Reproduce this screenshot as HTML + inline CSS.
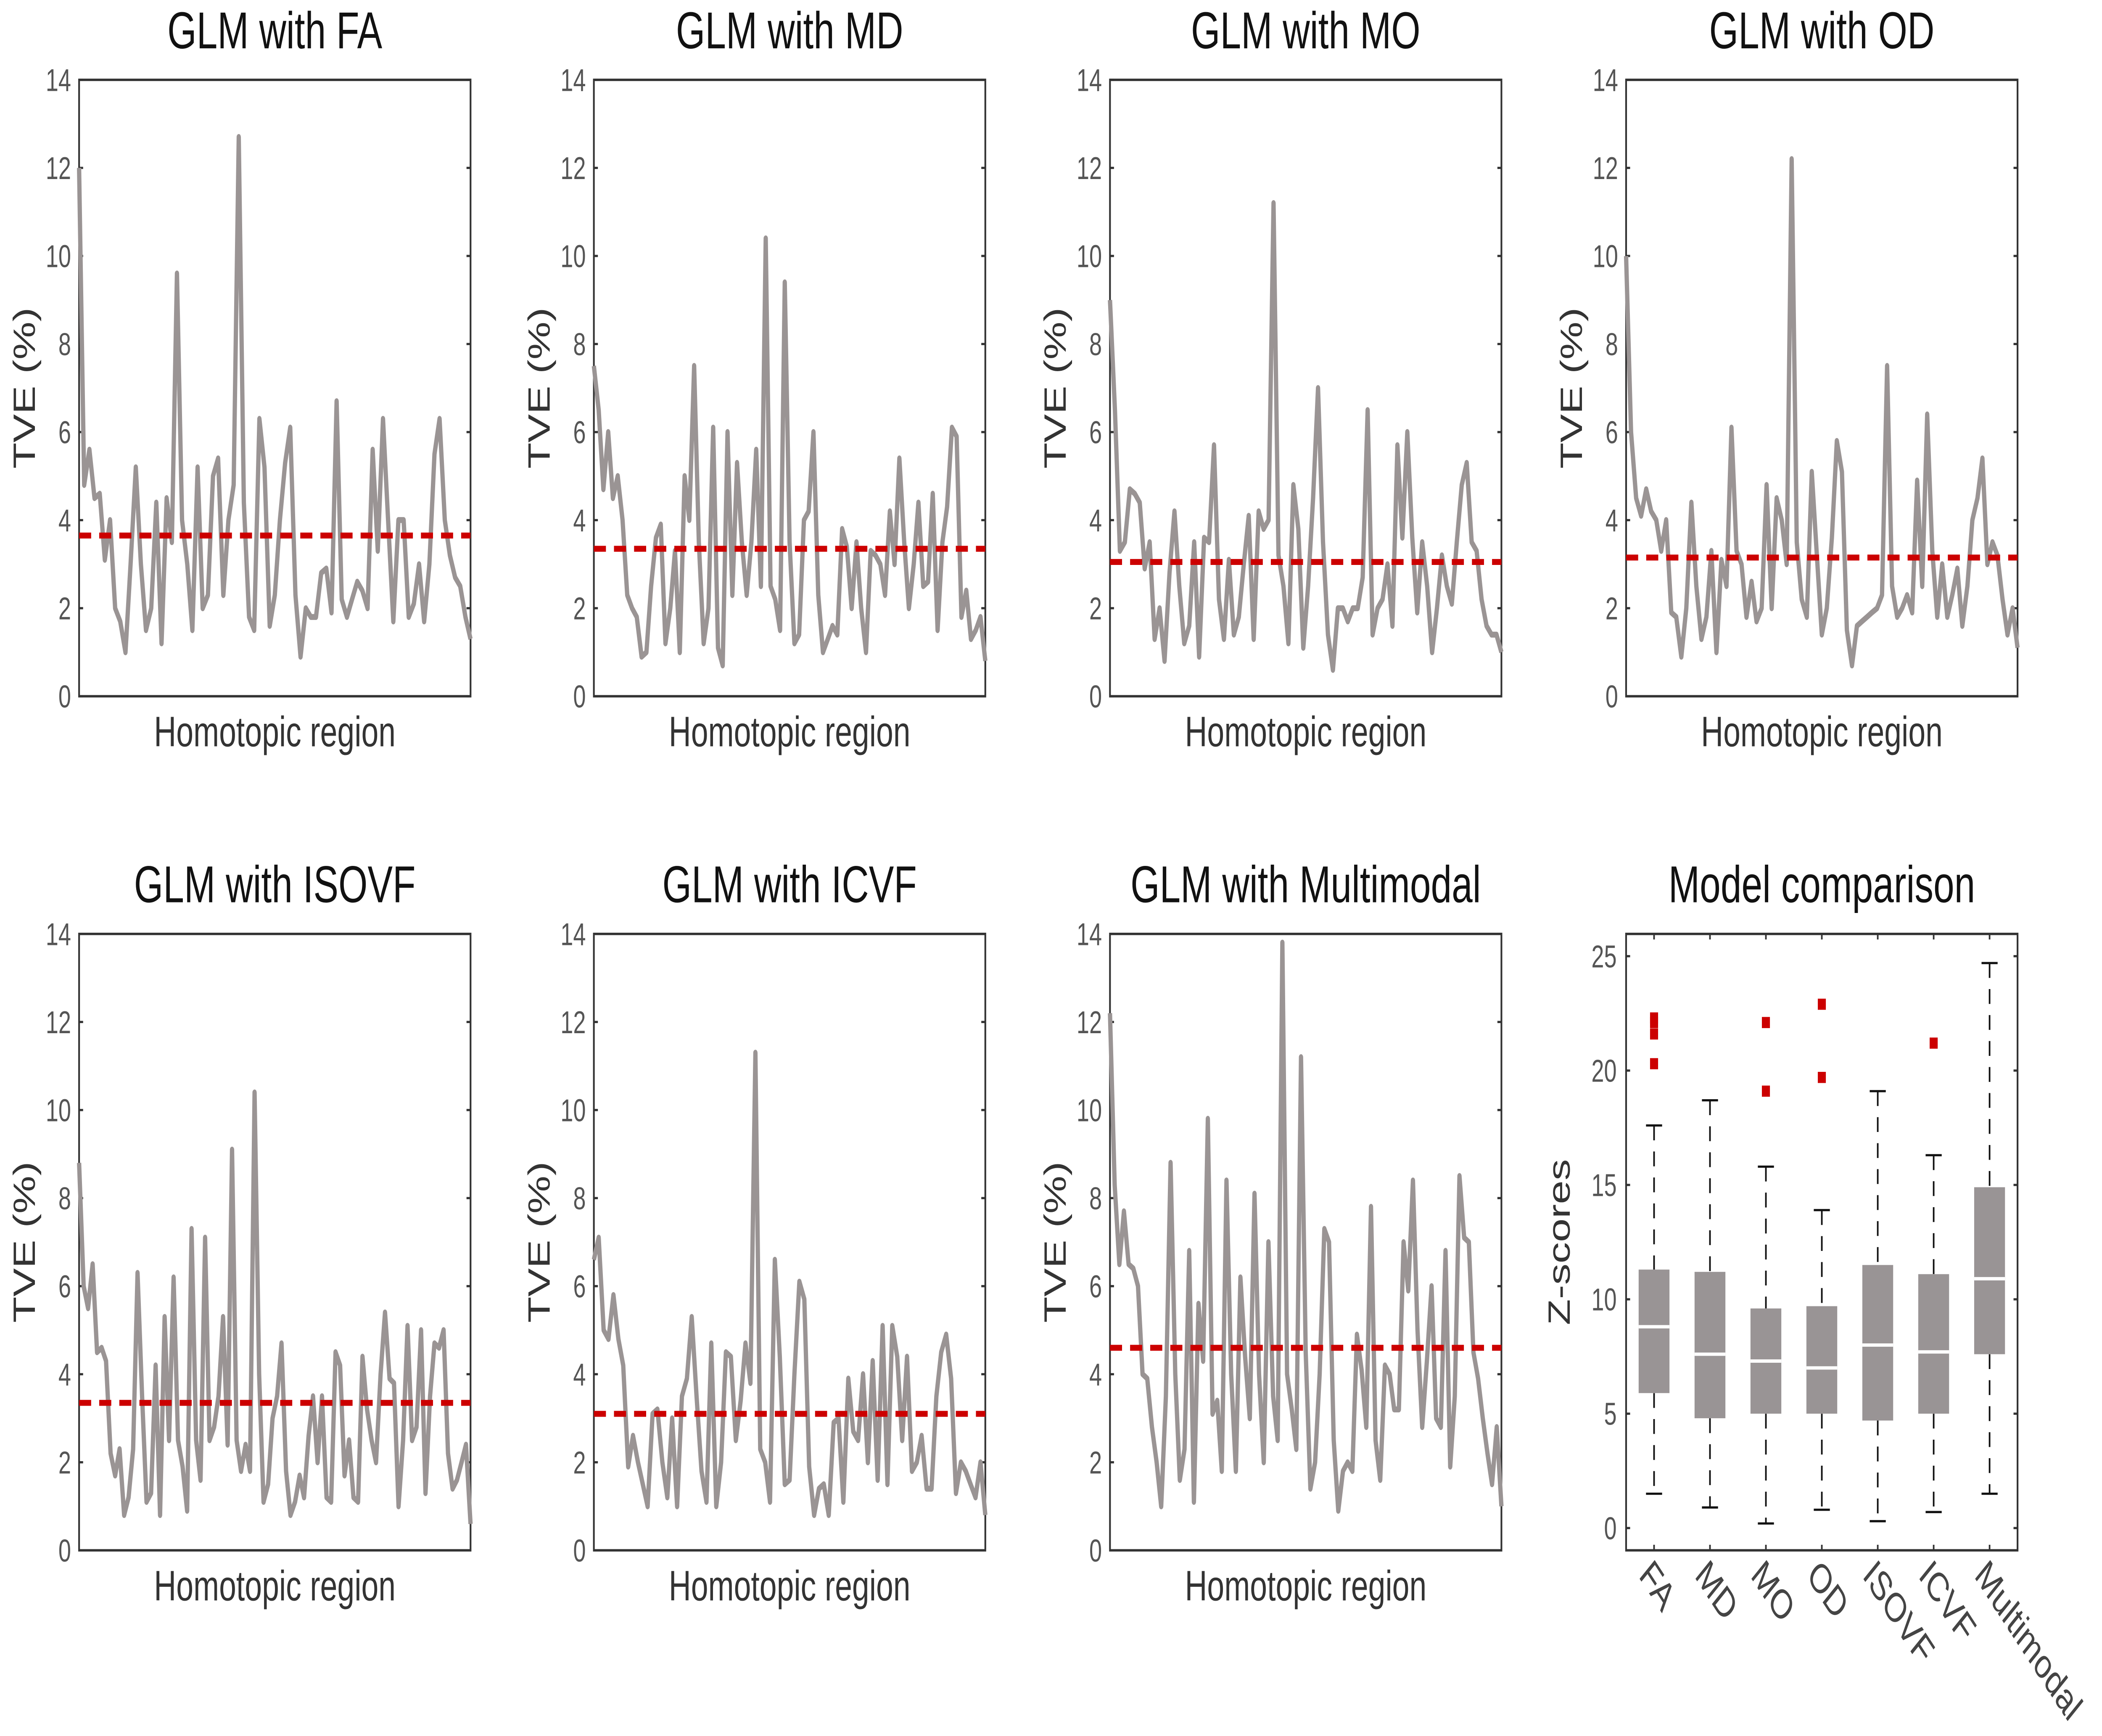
<!DOCTYPE html>
<html><head><meta charset="utf-8"><style>html,body{margin:0;padding:0;background:#fff;width:100%;height:100%;overflow:hidden;}#wrap{position:fixed;left:0;top:0;width:100vw;height:100vh;}svg{display:block;width:100vw;height:100vh;}</style></head>
<body>
<div id="wrap">
<svg id="fig" xmlns="http://www.w3.org/2000/svg" viewBox="0 0 1568 935" preserveAspectRatio="none" font-family="'Liberation Sans', sans-serif"></svg>
</div>
<script>
const titles = ["GLM with FA","GLM with MD","GLM with MO","GLM with OD","GLM with ISOVF","GLM with ICVF","GLM with Multimodal"];
const sFA = [12,4.8,5.6,4.5,4.6,3.1,4,2,1.7,1.0,3,5.2,3,1.5,2,4.4,1.2,4.5,3.5,9.6,4,3,1.5,5.2,2,2.3,5,5.4,2.3,4,4.8,12.7,4.4,1.8,1.5,6.3,5.2,1.6,2.3,4,5.3,6.1,2.3,0.9,2,1.8,1.8,2.8,2.9,1.9,6.7,2.2,1.8,2.2,2.6,2.4,2,5.6,3.3,6.3,4,1.7,4,4,1.8,2.1,3,1.7,3,5.5,6.3,4,3.2,2.7,2.5,1.8,1.3];
const sMD = [7.5,6.5,4.7,6,4.5,5,4,2.3,2,1.8,0.9,1,2.5,3.6,3.9,1.2,2,3.3,1,5,4,7.5,3.5,1.2,2,6.1,1.1,0.7,6,2.3,5.3,3.5,2.3,3.5,5.6,2.5,10.4,2.5,2.2,1.5,9.4,3.5,1.2,1.4,4,4.2,6,2.3,1,1.3,1.6,1.4,3.8,3.4,2,3.5,2,1,3.3,3.2,3,2.3,4.2,3,5.4,3.5,2,3,4.4,2.5,2.6,4.6,1.5,3.5,4.3,6.1,5.9,1.8,2.4,1.3,1.5,1.8,0.8];
const sMO = [9,6.5,3.3,3.5,4.7,4.6,4.4,2.9,3.5,1.3,2,0.8,2.8,4.2,2.5,1.2,1.6,3.5,0.9,3.6,3.5,5.7,2.2,1.3,3.1,1.4,1.8,3,4.1,1.3,4.2,3.8,4,11.2,3.2,2.5,1.2,4.8,3.8,1.1,2.5,4.5,7,3.5,1.4,0.6,2,2,1.7,2,2,2.7,6.5,1.4,2,2.2,3,1.6,5.7,3.6,6,3.6,1.9,3.5,2.5,1,2,3.2,2.5,2.1,3.5,4.8,5.3,3.5,3.3,2.2,1.6,1.4,1.4,1.0];
const sOD = [10,6,4.5,4.1,4.7,4.2,4,3.3,4,1.9,1.8,0.9,2,4.4,2.5,1.3,1.8,3.3,1,3.1,2.5,6.1,3.3,3,1.8,2.6,1.7,2,4.8,2,4.5,4,3,12.2,3.5,2.2,1.8,5.1,3.2,1.4,2,3.6,5.8,5.1,1.5,0.7,1.6,1.7,1.8,1.9,2,2.3,7.5,2.5,1.8,2,2.3,1.9,4.9,2.5,6.4,3.3,1.8,3,1.8,2.3,2.9,1.6,2.5,4,4.5,5.4,3,3.5,3.2,2.2,1.4,2,1.1];
const sISO = [8.8,6,5.5,6.5,4.5,4.6,4.3,2.2,1.7,2.3,0.8,1.2,2.3,6.3,3.5,1.1,1.3,4.2,0.8,5.3,2.5,6.2,2.5,1.9,0.9,7.3,2.5,1.6,7.1,2.5,2.8,3.5,5.3,2.4,9.1,2.5,1.8,2.4,1.8,10.4,4,1.1,1.5,3,3.5,4.7,1.8,0.8,1.1,1.7,1.2,2.6,3.5,2,3.5,1.2,1.1,4.5,4.2,1.7,2.5,1.2,1.1,4.4,3.2,2.5,2,4,5.4,3.9,3.8,1,2.5,5.1,2.5,2.8,5,1.3,3.5,4.7,4.6,5,2.2,1.4,1.6,2,2.4,0.6];
const sICVF = [6.6,7.1,5,4.8,5.8,4.8,4.2,1.9,2.6,2,1.5,1,3.1,3.2,2,1.2,3,1,3.5,3.9,5.3,3.5,1.8,1.1,4.7,1,2,4.5,4.4,2.5,3.4,4.7,3.8,11.3,2.3,2,1.1,6.6,4.4,1.5,1.6,4,6.1,5.7,1.9,0.8,1.4,1.5,0.8,2.9,3,1.1,3.9,2.7,2.5,4,2,4.3,1.6,5.1,1.5,5.1,4.4,2.5,4.4,1.8,2,2.6,1.4,1.4,3.5,4.5,4.9,3.9,1.3,2,1.8,1.5,1.2,2,0.8];
const sMM = [12.2,8.3,6.5,7.7,6.5,6.4,6,4,3.9,2.8,2,1,3.5,8.8,4,1.6,2.3,6.8,1.1,5.6,4.3,9.8,3.1,3.4,1.8,8.4,4,1.8,6.2,4.4,3,8.1,4,2,7,3.5,2.5,13.8,4,3.2,2.3,11.2,4.5,1.4,2,4,7.3,7,2.5,0.9,1.8,2,1.8,4.9,4.1,2.8,7.8,2.5,1.6,4.2,4,3.2,3.2,7,5.9,8.4,5,2.8,4.3,6,3,2.8,6.8,1.9,3.5,8.5,7.1,7,4.5,3.9,3,2.2,1.5,2.8,1.0];
const means = [3.65,3.35,3.05,3.15,3.35,3.1,4.6];
const tveTicks = [0,2,4,6,8,10,12,14];
const boxCats = ["FA","MD","MO","OD","ISOVF","ICVF","Multimodal"];
const boxLo = [1.5,0.9,0.2,0.8,0.3,0.7,1.5];
const boxQ1 = [5.9,4.8,5.0,5.0,4.7,5.0,7.6];
const boxMed = [8.8,7.6,7.3,7.0,8.0,7.7,10.9];
const boxQ3 = [11.3,11.2,9.6,9.7,11.5,11.1,14.9];
const boxHi = [17.6,18.7,15.8,13.9,19.1,16.3,24.7];
const outlierCat = [0,0,0,0,2,2,3,3,5];
const outlierVal = [20.3,21.6,22.1,22.3,19.1,22.1,19.7,22.9,21.2];
const zTicks = [0,5,10,15,20,25];

const series = [sFA,sMD,sMO,sOD,sISO,sICVF,sMM];
const NS = "http://www.w3.org/2000/svg";
const svg = document.getElementById('fig');
function mk(tag, attrs, parent){const e=document.createElementNS(NS,tag);for(const k in attrs)e.setAttribute(k,attrs[k]);(parent||svg).appendChild(e);return e;}
const panelX=[59,443,828,1213], rowY=[[43,375],[503,835]], PW=292;
for(let p=0;p<7;p++){
  const x0=panelX[p%4], [yT,yB]=rowY[Math.floor(p/4)], x1=x0+PW;
  const g=mk('g',{});
  
  
  const yS=v=>yB-(v/14)*(yB-yT);
  const data=series[p];
  const xS=i=>x0+i*(PW)/(data.length-1);
  const t=mk('text',{x:(x0+x1)/2,y:yT-17,'text-anchor':'middle','font-size':28,fill:'#111'},g);t.textContent=titles[p];
  
  const fr=mk('rect',{x:x0,y:yT,width:PW,height:yB-yT,fill:'none',stroke:'#333','stroke-width':1.3},g);
  
  tveTicks.forEach(v=>{
    mk('line',{x1:x0,x2:x0+3,y1:yS(v),y2:yS(v),stroke:'#333','stroke-width':1.2},g);
    mk('line',{x1:x1-3,x2:x1,y1:yS(v),y2:yS(v),stroke:'#333','stroke-width':1.2},g);
    const tl=mk('text',{x:x0-6,y:yS(v)+6,'text-anchor':'end','font-size':17,fill:'#555'},g);tl.textContent=v;
    
  });
  const yl=mk('text',{transform:`translate(${x0-33},${(yT+yB)/2}) rotate(-90)`,'text-anchor':'middle','font-size':23,fill:'#333'},g);yl.textContent='TVE (%)';
  
  const xl=mk('text',{x:(x0+x1)/2,y:yB+27,'text-anchor':'middle','font-size':23,fill:'#333'},g);xl.textContent='Homotopic region';
  
  const pl=mk('polyline',{points:data.map((v,i)=>xS(i).toFixed(1)+','+yS(v).toFixed(1)).join(' '),fill:'none',stroke:'#9a9494','stroke-width':3.2,'stroke-linejoin':'round'},g);
  
  const ml=mk('line',{x1:x0,x2:x1,y1:yS(means[p]),y2:yS(means[p]),stroke:'#cc0000','stroke-width':3.2,'stroke-dasharray':'9,6'},g);
  
}
(function(){
  const x0=1213,x1=1505,yT=503,yB=835;
  const g=mk('g',{});
  
  const yS=v=>823-(v/25)*(823-515);
  const step=(x1-x0)/boxCats.length;
  const xS=i=>x0+step*(i+0.5);
  const t=mk('text',{x:(x0+x1)/2,y:yT-17,'text-anchor':'middle','font-size':28,fill:'#111'},g);t.textContent='Model comparison';
  
  const fr=mk('rect',{x:x0,y:yT,width:x1-x0,height:yB-yT,fill:'none',stroke:'#333','stroke-width':1.3},g);
  
  zTicks.forEach(v=>{
    mk('line',{x1:x0,x2:x0+3,y1:yS(v),y2:yS(v),stroke:'#333','stroke-width':1.2},g);
    mk('line',{x1:x1-3,x2:x1,y1:yS(v),y2:yS(v),stroke:'#333','stroke-width':1.2},g);
    const tl=mk('text',{x:x0-7,y:yS(v)+6,'text-anchor':'end','font-size':17,fill:'#555'},g);tl.textContent=v;
    
  });
  const yl=mk('text',{transform:`translate(${x0-42},${(yT+yB)/2}) rotate(-90)`,'text-anchor':'middle','font-size':23,fill:'#333'},g);yl.textContent='Z-scores';
  
  boxCats.forEach((c,i)=>{
    const cx=xS(i),hw=11.5;
    mk('line',{x1:cx,x2:cx,y1:yB,y2:yB-3,stroke:'#333','stroke-width':1.2},g);
    mk('line',{x1:cx,x2:cx,y1:yT,y2:yT+3,stroke:'#333','stroke-width':1.2},g);
    const w1=mk('line',{x1:cx,x2:cx,y1:yS(boxHi[i]),y2:yS(boxQ3[i]),stroke:'#111','stroke-width':1.2,'stroke-dasharray':'8,6'},g);
    
    const w2=mk('line',{x1:cx,x2:cx,y1:yS(boxQ1[i]),y2:yS(boxLo[i]),stroke:'#111','stroke-width':1.2,'stroke-dasharray':'8,6'},g);
    
    mk('line',{x1:cx-6,x2:cx+6,y1:yS(boxHi[i]),y2:yS(boxHi[i]),stroke:'#111','stroke-width':1.2},g);
    mk('line',{x1:cx-6,x2:cx+6,y1:yS(boxLo[i]),y2:yS(boxLo[i]),stroke:'#111','stroke-width':1.2},g);
    const b=mk('rect',{x:cx-hw,y:yS(boxQ3[i]),width:2*hw,height:yS(boxQ1[i])-yS(boxQ3[i]),fill:'#999495'},g);
    
    const md=mk('line',{x1:cx-hw,x2:cx+hw,y1:yS(boxMed[i]),y2:yS(boxMed[i]),stroke:'#fff','stroke-width':1.8},g);
    
    const tl=mk('text',{transform:`translate(${cx-12},${yB+14}) rotate(48)`,'font-size':22,fill:'#444'},g);tl.textContent=c;
    
  });
  outlierVal.forEach((v,k)=>{
    const o=mk('rect',{x:xS(outlierCat[k])-3,y:yS(v)-3,width:6,height:6,fill:'#cc0000'},g);
    
  });
})();
</script>
</body></html>
